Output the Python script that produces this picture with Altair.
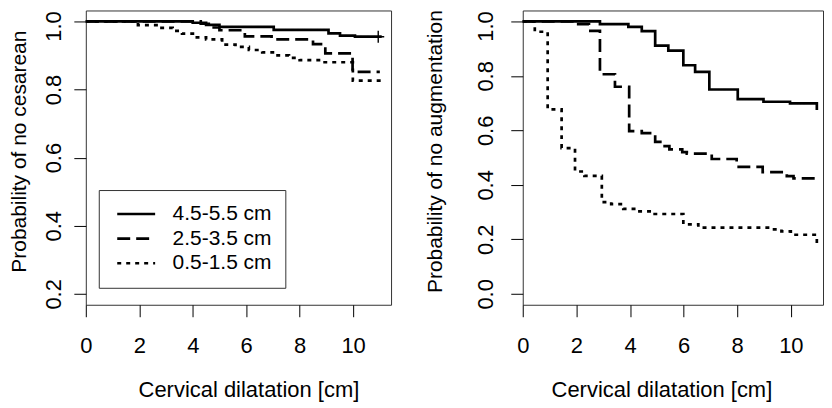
import altair as alt
import pandas as pd

GROUPS = ["4.5-5.5 cm", "2.5-3.5 cm", "0.5-1.5 cm"]
DASHES = [[1, 0], [13, 6], [4, 5]]
X_TICKS = [0, 2, 4, 6, 8, 10]
X_TITLE = "Cervical dilatation [cm]"

# ---- Left panel: probability of no cesarean ----
ces_t_45 = [0, 4.0, 4.5, 5.0, 7.03, 9.08, 9.51, 10.07, 11.07]
ces_s_45 = [1.0, 0.996, 0.990, 0.984, 0.975, 0.965, 0.958, 0.955, 0.955]
ces_t_25 = [0, 4.3, 4.7, 5.0, 5.95, 6.95, 8.5, 8.96, 9.98, 11.0]
ces_s_25 = [1.0, 0.993, 0.982, 0.974, 0.956, 0.947, 0.933, 0.906, 0.852, 0.852]
ces_t_05 = [0, 1.95, 2.7, 3.25, 3.6, 4.1, 4.5, 5.1, 5.6, 6.1, 6.6, 7.0, 7.6, 8.0, 8.8, 9.99, 11.05]
ces_s_05 = [1.0, 0.989, 0.981, 0.972, 0.964, 0.953, 0.947, 0.932, 0.925, 0.916, 0.909, 0.900, 0.893, 0.886, 0.880, 0.826, 0.826]
ces_censor_t = [10.94]
ces_censor_s = [0.955]

# ---- Right panel: probability of no augmentation ----
aug_t_45 = [0, 2.88, 3.94, 4.44, 4.94, 5.43, 5.99, 6.43, 6.96, 8.02, 8.98, 9.97, 10.97]
aug_s_45 = [1.0, 0.990, 0.980, 0.964, 0.911, 0.893, 0.839, 0.815, 0.750, 0.715, 0.705, 0.699, 0.675]
aug_t_25 = [0, 2.0, 2.47, 2.88, 3.44, 3.97, 4.44, 4.94, 5.2, 5.47, 5.95, 6.12, 7.05, 7.98, 8.95, 9.85, 10.1, 11.0]
aug_s_25 = [1.0, 0.990, 0.965, 0.806, 0.760, 0.597, 0.590, 0.558, 0.542, 0.530, 0.520, 0.515, 0.495, 0.466, 0.447, 0.432, 0.424, 0.424]
aug_t_05 = [0, 0.45, 0.93, 1.45, 1.95, 2.3, 2.95, 3.3, 3.75, 4.25, 4.85, 5.99, 6.55, 9.3, 9.65, 10.0, 10.97]
aug_s_05 = [1.0, 0.962, 0.677, 0.535, 0.449, 0.433, 0.337, 0.329, 0.312, 0.303, 0.293, 0.255, 0.243, 0.237, 0.229, 0.217, 0.172]


def frame(series):
    rows = []
    for g, ts, ss in series:
        for t, s in zip(ts, ss):
            rows.append({"t": t, "s": s, "g": g})
    return pd.DataFrame(rows)


ces_df = frame([(GROUPS[0], ces_t_45, ces_s_45),
                (GROUPS[1], ces_t_25, ces_s_25),
                (GROUPS[2], ces_t_05, ces_s_05)])
aug_df = frame([(GROUPS[0], aug_t_45, aug_s_45),
                (GROUPS[1], aug_t_25, aug_s_25),
                (GROUPS[2], aug_t_05, aug_s_05)])
cens_df = pd.DataFrame({"t": ces_censor_t, "s": ces_censor_s})

FONT = "Liberation Sans"
TOP_LABEL_SHIFT = {"condition": {"test": "datum.value >= 0.999", "value": 4.6}, "value": 0}


def panel(df, width, xdom, ydom, yvals, ytitle, ylabpad, ytitlex, xtitlex, legend):
    x = alt.X("t:Q",
              scale=alt.Scale(domain=xdom, nice=False, zero=False),
              axis=alt.Axis(values=X_TICKS, title=X_TITLE, labelFlush=False,
                            labelOverlap=False, labelPadding=18.4,
                            titleX=xtitlex, titleY=92, titleAlign="center",
                            titleBaseline="alphabetic", titleAngle=0))
    y = alt.Y("s:Q",
              scale=alt.Scale(domain=ydom, nice=False, zero=False),
              axis=alt.Axis(values=yvals, format=".1f", title=ytitle,
                            labelAngle=270, labelAlign="center",
                            labelBaseline="alphabetic", labelPadding=ylabpad,
                            labelOverlap=False, labelFlush=False,
                            labelOffset=TOP_LABEL_SHIFT,
                            titleX=ytitlex, titleY=141, titleAngle=270,
                            titleAlign="center", titleBaseline="alphabetic"))
    lines = alt.Chart(df).mark_line(
        interpolate="step-after", color="black", strokeWidth=2.7, strokeCap="butt"
    ).encode(
        x=x, y=y,
        strokeDash=alt.StrokeDash("g:N",
                                  scale=alt.Scale(domain=GROUPS, range=DASHES),
                                  sort=GROUPS, legend=legend),
    )
    return lines.properties(width=width, height=295)


legend = alt.Legend(orient="none", legendX=13, legendY=180, title=None,
                    symbolType="stroke", symbolSize=1444, symbolStrokeWidth=2.7,
                    symbolStrokeColor="black", clipHeight=22, rowPadding=2.7,
                    padding=13, symbolOffset=4, labelOffset=16, labelFontSize=21,
                    labelFont=FONT, labelColor="black", strokeColor="#333",
                    fillColor="white", labelLimit=300)

left_lines = panel(ces_df, 306, [0, 11.42], [0.168, 1.032],
                   [0.2, 0.4, 0.6, 0.8, 1.0], "Probability of no cesarean",
                   13, -60, 163, legend)
censor = alt.Chart(cens_df).mark_point(
    shape="M-1,0H1M0,-1V1", size=144, color="black", strokeWidth=1.4,
    filled=False, opacity=1
).encode(x="t:Q", y="s:Q")
left = alt.layer(left_lines, censor)

right = panel(aug_df, 301, [0, 11.2], [-0.04, 1.04],
              [0.0, 0.2, 0.4, 0.6, 0.8, 1.0], "Probability of no augmentation",
              18.8, -81, 139, None)

chart = alt.hconcat(left, right, spacing=32).resolve_scale(
    strokeDash="independent"
).resolve_legend(strokeDash="independent").properties(padding=0).configure(
    font=FONT
).configure_view(
    stroke="#333", strokeWidth=1
).configure_axis(
    domain=False, grid=False, tickSize=12, tickColor="black", tickWidth=1,
    labelFont=FONT, labelFontSize=22, labelColor="black",
    titleFont=FONT, titleFontSize=22, titleFontWeight="normal", titleColor="black"
).configure_axisY(titleFontSize=21)

chart.save("out.html", embed_options={"renderer": "svg", "actions": False})
